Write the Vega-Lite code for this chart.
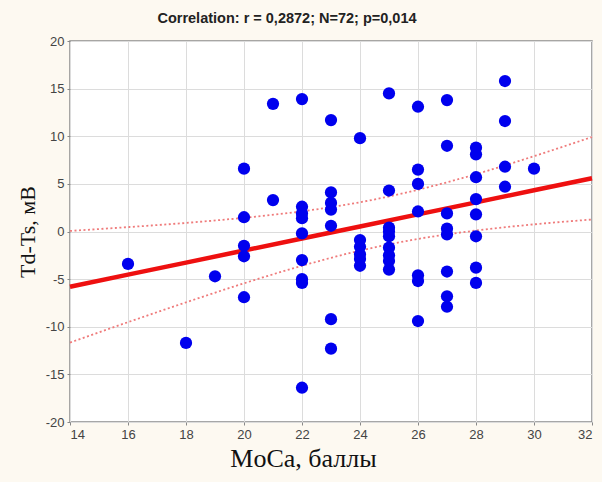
{
  "$schema": "https://vega.github.io/schema/vega-lite/v6.json",
  "autosize": "none",
  "width": 522,
  "height": 381,
  "padding": {"left": 70, "top": 41, "right": 10, "bottom": 60},
  "background": "#fdf9f1",
  "title": {"text": "Correlation: r = 0,2872; N=72; p=0,014", "font": "Liberation Sans", "fontSize": 14.5, "fontWeight": "bold", "color": "#222", "offset": 9, "dx": -44},
  "config": {
    "view": {"fill": "white", "stroke": "#8a8a8a", "strokeWidth": 1.5},
    "axis": {"labelFont": "Liberation Sans", "labelFontSize": 13, "labelColor": "#444", "gridColor": "#dcdcdc", "gridWidth": 1, "tickColor": "#888", "tickSize": 3, "domain": false, "titleFont": "Liberation Serif", "titleFontWeight": "normal", "titleColor": "#111"}
  },
  "datasets": {
    "pts": [
      {"moca": 16, "v": -3.4},
      {"moca": 18, "v": -11.7},
      {"moca": 19, "v": -4.7},
      {"moca": 20, "v": 6.6}, {"moca": 20, "v": 1.5}, {"moca": 20, "v": -1.5}, {"moca": 20, "v": -2.6}, {"moca": 20, "v": -6.9},
      {"moca": 21, "v": 13.4}, {"moca": 21, "v": 3.3},
      {"moca": 22, "v": 13.9}, {"moca": 22, "v": 2.6}, {"moca": 22, "v": 1.9}, {"moca": 22, "v": 1.4}, {"moca": 22, "v": -0.2}, {"moca": 22, "v": -3.0}, {"moca": 22, "v": -5.0}, {"moca": 22, "v": -5.4}, {"moca": 22, "v": -16.4},
      {"moca": 23, "v": 11.7}, {"moca": 23, "v": 4.1}, {"moca": 23, "v": 3.0}, {"moca": 23, "v": 2.3}, {"moca": 23, "v": 0.6}, {"moca": 23, "v": -9.2}, {"moca": 23, "v": -12.3},
      {"moca": 24, "v": 9.8}, {"moca": 24, "v": -0.9}, {"moca": 24, "v": -1.6}, {"moca": 24, "v": -2.4}, {"moca": 24, "v": -2.9}, {"moca": 24, "v": -3.6},
      {"moca": 25, "v": 14.5}, {"moca": 25, "v": 4.3}, {"moca": 25, "v": 0.4}, {"moca": 25, "v": 0}, {"moca": 25, "v": -0.5}, {"moca": 25, "v": -1.7}, {"moca": 25, "v": -2.5}, {"moca": 25, "v": -3.1}, {"moca": 25, "v": -4.0},
      {"moca": 26, "v": 13.1}, {"moca": 26, "v": 6.5}, {"moca": 26, "v": 5.0}, {"moca": 26, "v": 2.1}, {"moca": 26, "v": -4.6}, {"moca": 26, "v": -5.2}, {"moca": 26, "v": -9.4},
      {"moca": 27, "v": 13.8}, {"moca": 27, "v": 9.0}, {"moca": 27, "v": 1.9}, {"moca": 27, "v": 0.3}, {"moca": 27, "v": -0.3}, {"moca": 27, "v": -4.2}, {"moca": 27, "v": -6.8}, {"moca": 27, "v": -7.9},
      {"moca": 28, "v": 8.8}, {"moca": 28, "v": 8.1}, {"moca": 28, "v": 5.7}, {"moca": 28, "v": 3.4}, {"moca": 28, "v": 1.8}, {"moca": 28, "v": -0.5}, {"moca": 28, "v": -3.8}, {"moca": 28, "v": -5.4},
      {"moca": 29, "v": 15.8}, {"moca": 29, "v": 11.6}, {"moca": 29, "v": 6.8}, {"moca": 29, "v": 4.7},
      {"moca": 30, "v": 6.6}
    ],
    "fit": [
      {"moca": 14, "fit": -5.80, "lo": -11.66, "hi": 0.06},
      {"moca": 16, "fit": -4.53, "lo": -9.52, "hi": 0.46},
      {"moca": 18, "fit": -3.27, "lo": -7.44, "hi": 0.90},
      {"moca": 20, "fit": -2.00, "lo": -5.44, "hi": 1.44},
      {"moca": 22, "fit": -0.74, "lo": -3.60, "hi": 2.12},
      {"moca": 24, "fit": 0.53, "lo": -2.01, "hi": 3.07},
      {"moca": 26, "fit": 1.80, "lo": -0.78, "hi": 4.38},
      {"moca": 28, "fit": 3.06, "lo": 0.10, "hi": 6.02},
      {"moca": 30, "fit": 4.33, "lo": 0.75, "hi": 7.91},
      {"moca": 32, "fit": 5.59, "lo": 1.26, "hi": 9.92}
    ]
  },
  "layer": [
    {
      "data": {"name": "fit"},
      "mark": {"type": "line", "color": "#ef7b7b", "strokeWidth": 1.8, "strokeDash": [2, 2.5], "interpolate": "monotone"},
      "encoding": {
        "x": {"field": "moca", "type": "quantitative", "scale": {"domain": [14, 32], "nice": false}, "axis": {"values": [14, 16, 18, 20, 22, 24, 26, 28, 30, 32], "title": "MoCa, баллы", "titleFontSize": 26, "titleX": 233, "titlePadding": 4, "labelPadding": 3}},
        "y": {"field": "hi", "type": "quantitative", "scale": {"domain": [-20, 20], "nice": false}, "axis": {"values": [-20, -15, -10, -5, 0, 5, 10, 15, 20], "title": "Td-Ts, мВ", "titleFontSize": 22, "titlePadding": 6, "labelPadding": 3, "labelExpr": "replace(datum.label, '\u2212', '-')"}}
      }
    },
    {
      "data": {"name": "fit"},
      "mark": {"type": "line", "color": "#ef7b7b", "strokeWidth": 1.8, "strokeDash": [2, 2.5], "interpolate": "monotone"},
      "encoding": {
        "x": {"field": "moca", "type": "quantitative"},
        "y": {"field": "lo", "type": "quantitative"}
      }
    },
    {
      "data": {"name": "fit"},
      "mark": {"type": "line", "color": "#ee1010", "strokeWidth": 4.5},
      "encoding": {
        "x": {"field": "moca", "type": "quantitative"},
        "y": {"field": "fit", "type": "quantitative"}
      }
    },
    {
      "data": {"name": "pts"},
      "mark": {"type": "circle", "color": "#0000ee", "opacity": 1, "size": 150},
      "encoding": {
        "x": {"field": "moca", "type": "quantitative"},
        "y": {"field": "v", "type": "quantitative"}
      }
    }
  ]
}
